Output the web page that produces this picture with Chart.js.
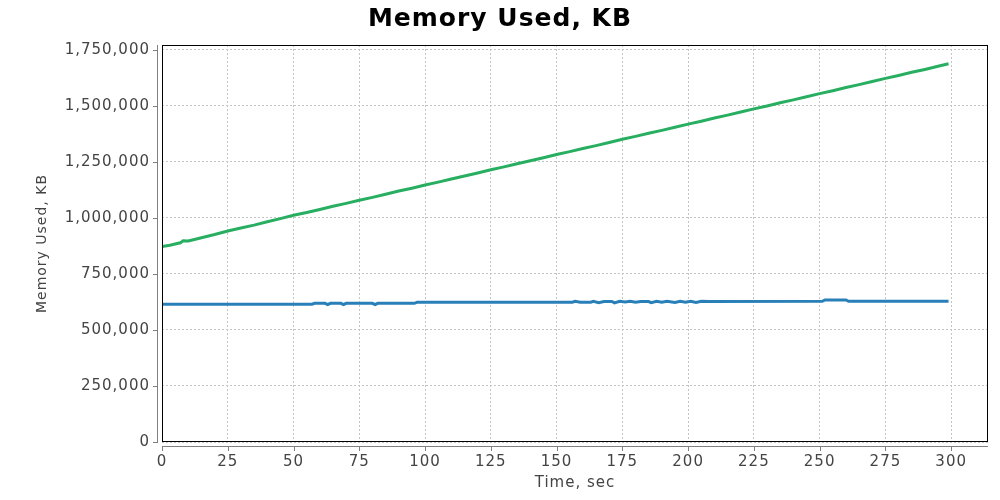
<!DOCTYPE html>
<html>
<head>
<meta charset="utf-8">
<script src="https://cdn.jsdelivr.net/npm/chart.js@4/dist/chart.umd.min.js"></script>
<style>
  html, body { margin: 0; padding: 0; background: #fff; }
  #wrap { width: 1000px; height: 500px; }
</style>
</head>
<body>
<div id="wrap"><canvas id="chart"></canvas></div>
<script>
// tick labels
var xTicks = [0, 25, 50, 75, 100, 125, 150, 175, 200, 225, 250, 275, 300];
var yTicks = [0, 250000, 500000, 750000, 1000000, 1250000, 1500000, 1750000];

// green series (seconds / KB)
var greenTimes = [0, 3, 5, 7, 8, 10, 15, 20, 25, 30, 35, 40, 45, 50, 55, 60, 65, 70, 75, 80, 85, 90, 95,
  100, 105, 110, 115, 120, 125, 130, 135, 140, 145, 150, 155, 160, 165, 170, 175, 180, 185, 190, 195,
  200, 205, 210, 215, 220, 225, 230, 235, 240, 245, 250, 255, 260, 265, 270, 275, 280, 285, 290, 295, 299];
var greenValues = [872000, 878000, 884000, 889000, 898000, 897000, 912000, 926000, 942000, 955000, 968000,
  983000, 997000, 1012000, 1024000, 1038000, 1052000, 1065000, 1079000, 1092000, 1106000, 1120000, 1133000,
  1147000, 1160000, 1174000, 1187000, 1201000, 1215000, 1228000, 1242000, 1255000, 1269000, 1283000,
  1296000, 1310000, 1323000, 1337000, 1351000, 1364000, 1378000, 1391000, 1405000, 1419000, 1432000,
  1446000, 1459000, 1473000, 1487000, 1500000, 1514000, 1527000, 1541000, 1555000, 1568000, 1582000,
  1595000, 1609000, 1623000, 1636000, 1650000, 1663000, 1677000, 1688000];

// blue series (seconds / KB)
var blueTimes = [0, 57, 58, 62, 63, 64, 68, 69, 70, 80, 81, 82, 96, 97, 156, 157, 159, 163, 164, 166, 168,
  171, 172, 174, 176, 178, 180, 182, 185, 186, 188, 190, 192, 195, 197, 199, 201, 203, 205, 208, 251, 252,
  260, 261, 299];
var blueValues = [615000, 615000, 619000, 619000, 613000, 619000, 619000, 613000, 619000, 619000, 613000,
  619000, 619000, 624000, 624000, 628000, 624000, 624000, 628000, 622000, 627000, 627000, 621000, 628000,
  625000, 628000, 624000, 627000, 627000, 622000, 628000, 624000, 628000, 623000, 628000, 624000, 628000,
  623000, 628000, 627000, 628000, 634000, 634000, 628000, 628000];

function pairs(xs, ys) {
  var out = [];
  for (var i = 0; i < xs.length; i++) {
    out.push({ x: xs[i], y: ys[i] });
  }
  return out;
}

var FONT = "'DejaVu Sans', sans-serif";

// wider text spacing, like the java font of the original
var spacing = {
  id: 'spacing',
  beforeUpdate: function (chart) { chart.ctx.letterSpacing = '1px'; },
  beforeDraw: function (chart) { chart.ctx.letterSpacing = '1px'; }
};

// black plot frame plus offset gray axis lines with tick marks
var frame = {
  id: 'frame',
  afterDraw: function (chart) {
    var a = chart.chartArea;
    var ctx = chart.ctx;
    var xs = chart.scales.x, ys = chart.scales.y;
    ctx.save();
    ctx.strokeStyle = '#000';
    ctx.lineWidth = 1;
    ctx.strokeRect(a.left + 0.5, a.top + 0.5, a.right - a.left - 1, a.bottom - a.top - 1);

    ctx.strokeStyle = '#808080';
    ctx.beginPath();
    ctx.moveTo(a.left - 4.5, a.top);
    ctx.lineTo(a.left - 4.5, a.bottom);
    ys.ticks.forEach(function (t) {
      var py = Math.round(ys.getPixelForValue(t.value)) + 0.5;
      ctx.moveTo(a.left - 9, py);
      ctx.lineTo(a.left - 4, py);
    });
    ctx.moveTo(a.left, a.bottom + 4.5);
    ctx.lineTo(a.right, a.bottom + 4.5);
    xs.ticks.forEach(function (t) {
      var px = Math.round(xs.getPixelForValue(t.value)) + 0.5;
      ctx.moveTo(px, a.bottom + 4);
      ctx.lineTo(px, a.bottom + 9);
    });
    ctx.stroke();
    ctx.restore();
  }
};

var ctx = document.getElementById('chart').getContext('2d');
var chart = new Chart(ctx, {
  type: 'line',
  data: {
    datasets: [{
      data: pairs(greenTimes, greenValues),
      borderColor: '#27ae60',
      borderWidth: 3,
      pointRadius: 0,
      tension: 0,
      fill: false
    }, {
      data: pairs(blueTimes, blueValues),
      borderColor: '#2980b9',
      borderWidth: 3,
      pointRadius: 0,
      tension: 0,
      fill: false
    }]
  },
  options: {
    responsive: true,
    maintainAspectRatio: false,
    animation: false,
    devicePixelRatio: 1,
    layout: { padding: { left: 12, right: 12, top: 0, bottom: 0 } },
    plugins: {
      legend: { display: false },
      tooltip: { enabled: false },
      title: {
        display: true,
        text: 'Memory Used, KB',
        color: '#000',
        font: { family: FONT, size: 25, weight: 'bold', lineHeight: 1 },
        padding: { top: 7, bottom: 13 }
      }
    },
    scales: {
      x: {
        type: 'linear',
        min: 0,
        max: 314,
        afterBuildTicks: function (scale) {
          scale.ticks = xTicks.map(function (v) { return { value: v }; });
        },
        afterFit: function (scale) { scale.height = 58; },
        ticks: {
          color: '#444',
          font: { family: FONT, size: 15 },
          padding: 11,
          maxRotation: 0,
          autoSkip: false
        },
        grid: { color: '#c4c4c4', drawTicks: false },
        border: { display: false, dash: [2, 2] },
        title: {
          display: true,
          text: 'Time, sec',
          color: '#444',
          font: { family: FONT, size: 15, lineHeight: 1.2 },
          padding: { top: 0, bottom: 8 }
        }
      },
      y: {
        type: 'linear',
        min: 0,
        max: 1772000,
        afterBuildTicks: function (scale) {
          scale.ticks = yTicks.map(function (v) { return { value: v }; });
        },
        afterFit: function (scale) { scale.width = 150; },
        ticks: {
          color: '#444',
          font: { family: FONT, size: 15 },
          padding: 12,
          callback: function (v) { return v.toLocaleString('en-US'); }
        },
        grid: { color: '#c4c4c4', drawTicks: false },
        border: { display: false, dash: [2, 2] },
        title: {
          display: true,
          text: 'Memory Used, KB',
          color: '#444',
          font: { family: FONT, size: 14, lineHeight: 1.2 },
          padding: { top: 22, bottom: 0 }
        }
      }
    }
  },
  plugins: [spacing, frame]
});
</script>
</body>
</html>
